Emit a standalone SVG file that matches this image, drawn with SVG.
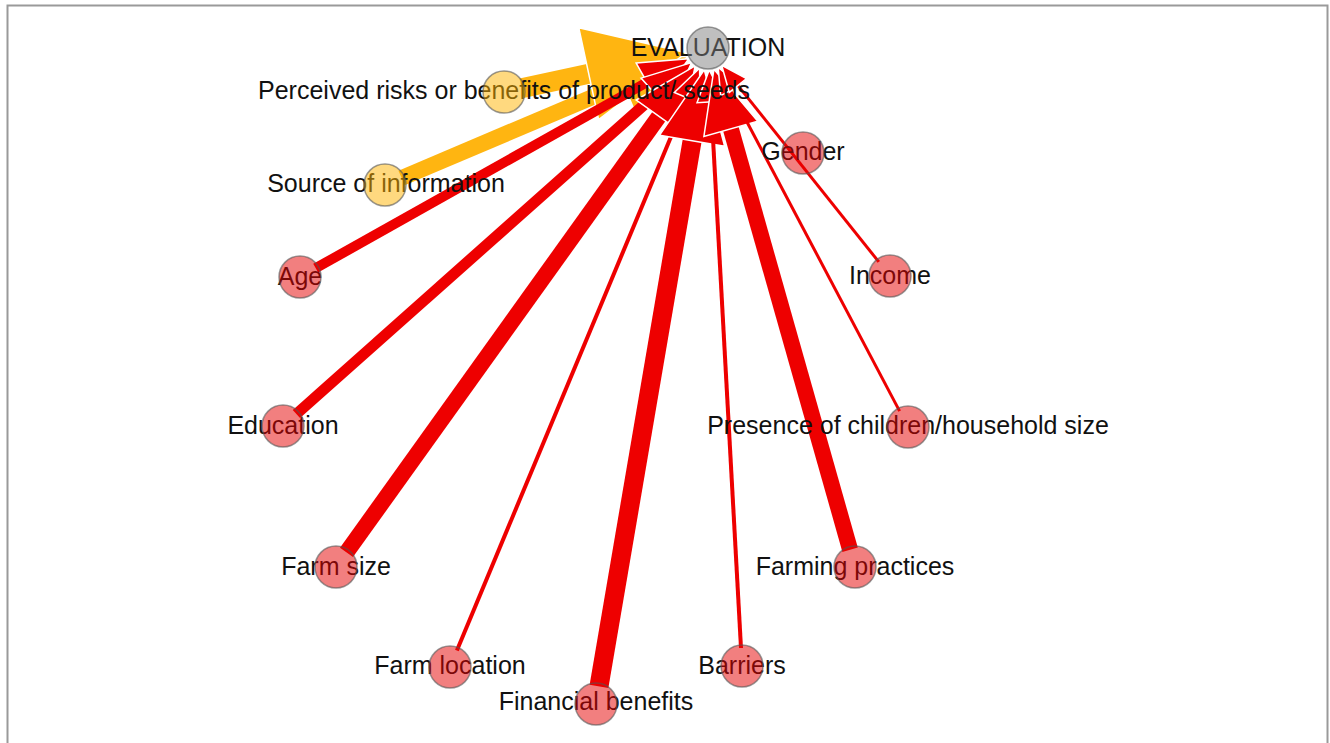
<svg xmlns="http://www.w3.org/2000/svg" width="1330" height="743" viewBox="0 0 1330 743">
  <style>
    .frame { fill: #ffffff; stroke: #9a9a9a; stroke-width: 2; }
    .edge { fill: none; stroke-linecap: butt; }
    .y { stroke: #ffb511; }
    .r { stroke: #ee0000; }
    .head-y { fill: #ffb511; stroke: #ffffff; stroke-width: 1.5; }
    .head-r { fill: #ee0000; stroke: #ffffff; stroke-width: 1.5; }
    .lbl { font-family: "Liberation Sans", Arial, sans-serif; font-size: 25px; fill: #111111; text-anchor: middle; }
    .n { stroke: #555555; stroke-opacity: 0.6; stroke-width: 1.5; }
    .n-red { fill: #e60000; fill-opacity: 0.5; }
    .n-yel { fill: #ffb300; fill-opacity: 0.5; }
    .n-gry { fill: #7f7f7f; fill-opacity: 0.5; }
  </style>
  <defs>
    <!-- arrowheads: line ends at the middle of the head (refX = L/2) -->
    <marker id="ay1" markerUnits="userSpaceOnUse" viewBox="0 0 100 94" markerWidth="100" markerHeight="94" refX="50" refY="47" orient="auto" overflow="visible">
      <path class="head-y" d="M0,0 L100,47 L0,94 Z"/>
    </marker>
    <marker id="ay2" markerUnits="userSpaceOnUse" viewBox="0 0 70 64" markerWidth="70" markerHeight="64" refX="35" refY="32" orient="auto" overflow="visible">
      <path class="head-y" d="M0,0 L70,32 L0,64 Z"/>
    </marker>
    <marker id="ar20" markerUnits="userSpaceOnUse" viewBox="0 0 72 66" markerWidth="72" markerHeight="66" refX="36" refY="33" orient="auto" overflow="visible">
      <path class="head-r" d="M0,0 L72,33 L0,66 Z"/>
    </marker>
    <marker id="ar16" markerUnits="userSpaceOnUse" viewBox="0 0 62 56" markerWidth="62" markerHeight="56" refX="31" refY="28" orient="auto" overflow="visible">
      <path class="head-r" d="M0,0 L62,28 L0,56 Z"/>
    </marker>
    <marker id="ar10" markerUnits="userSpaceOnUse" viewBox="0 0 48 44" markerWidth="48" markerHeight="44" refX="24" refY="22" orient="auto" overflow="visible">
      <path class="head-r" d="M0,0 L48,22 L0,44 Z"/>
    </marker>
    <marker id="ar4" markerUnits="userSpaceOnUse" viewBox="0 0 32 28" markerWidth="32" markerHeight="28" refX="16" refY="14" orient="auto" overflow="visible">
      <path class="head-r" d="M0,0 L32,14 L0,28 Z"/>
    </marker>
    <marker id="ar2" markerUnits="userSpaceOnUse" viewBox="0 0 26 22" markerWidth="26" markerHeight="22" refX="13" refY="11" orient="auto" overflow="visible">
      <path class="head-r" d="M0,0 L26,11 L0,22 Z"/>
    </marker>
  </defs>

  <rect class="frame" x="7.5" y="5.5" width="1320" height="760"/>

  <g id="connectors">
    <line class="edge y" x1="401.6" y1="178" x2="655.5" y2="70.3" stroke-width="16" marker-end="url(#ay2)"/>
    <line class="edge y" x1="521.6" y1="88.2" x2="637.6" y2="63.2" stroke-width="20" marker-end="url(#ay1)"/>
    <line class="edge r" x1="315.7" y1="268.2" x2="667.9" y2="70.5" stroke-width="10" marker-end="url(#ar10)"/>
    <line class="edge r" x1="296.4" y1="414" x2="673.6" y2="78.6" stroke-width="11" marker-end="url(#ar10)"/>
    <line class="edge r" x1="346.5" y1="552.4" x2="677.1" y2="91.1" stroke-width="16" marker-end="url(#ar16)"/>
    <line class="edge r" x1="456.9" y1="650.4" x2="693.4" y2="83.1" stroke-width="4" marker-end="url(#ar4)"/>
    <line class="edge r" x1="599" y1="686.3" x2="698.2" y2="105.2" stroke-width="19" marker-end="url(#ar20)"/>
    <line class="edge r" x1="741" y1="648" x2="710.1" y2="85.9" stroke-width="4" marker-end="url(#ar4)"/>
    <line class="edge r" x1="850.1" y1="549.7" x2="722.4" y2="99" stroke-width="16" marker-end="url(#ar16)"/>
    <line class="edge r" x1="899.6" y1="411.1" x2="724.3" y2="79" stroke-width="3" marker-end="url(#ar2)"/>
    <line class="edge r" x1="878.8" y1="261.9" x2="729.8" y2="75.4" stroke-width="3" marker-end="url(#ar2)"/>
  </g>

  <g id="node-evaluation">
    <text class="lbl" x="708" y="56">EVALUATION</text>
    <circle class="n n-gry" cx="708" cy="48" r="21"/>
  </g>
  <g id="node-perceived-risks">
    <text class="lbl" x="504" y="99">Perceived risks or benefits of product/ seeds</text>
    <circle class="n n-yel" cx="504" cy="92" r="21"/>
  </g>
  <g id="node-source-information">
    <text class="lbl" x="386" y="192">Source of information</text>
    <circle class="n n-yel" cx="385" cy="185" r="21"/>
  </g>
  <g id="node-age">
    <text class="lbl" x="300" y="285">Age</text>
    <circle class="n n-red" cx="300" cy="277" r="21"/>
  </g>
  <g id="node-education">
    <text class="lbl" x="283" y="434">Education</text>
    <circle class="n n-red" cx="283" cy="426" r="21"/>
  </g>
  <g id="node-farm-size">
    <text class="lbl" x="336" y="575">Farm size</text>
    <circle class="n n-red" cx="336" cy="567" r="21"/>
  </g>
  <g id="node-farm-location">
    <text class="lbl" x="450" y="674">Farm location</text>
    <circle class="n n-red" cx="450" cy="667" r="21"/>
  </g>
  <g id="node-financial-benefits">
    <text class="lbl" x="596" y="710">Financial benefits</text>
    <circle class="n n-red" cx="596" cy="704" r="21"/>
  </g>
  <g id="node-barriers">
    <text class="lbl" x="742" y="674">Barriers</text>
    <circle class="n n-red" cx="742" cy="666" r="21"/>
  </g>
  <g id="node-farming-practices">
    <text class="lbl" x="855" y="575">Farming practices</text>
    <circle class="n n-red" cx="855" cy="567" r="21"/>
  </g>
  <g id="node-presence-children">
    <text class="lbl" x="908" y="434">Presence of children/household size</text>
    <circle class="n n-red" cx="908" cy="427" r="21"/>
  </g>
  <g id="node-income">
    <text class="lbl" x="890" y="284">Income</text>
    <circle class="n n-red" cx="890" cy="276" r="21"/>
  </g>
  <g id="node-gender">
    <text class="lbl" x="803" y="160">Gender</text>
    <circle class="n n-red" cx="803" cy="153" r="21"/>
  </g>
</svg>
